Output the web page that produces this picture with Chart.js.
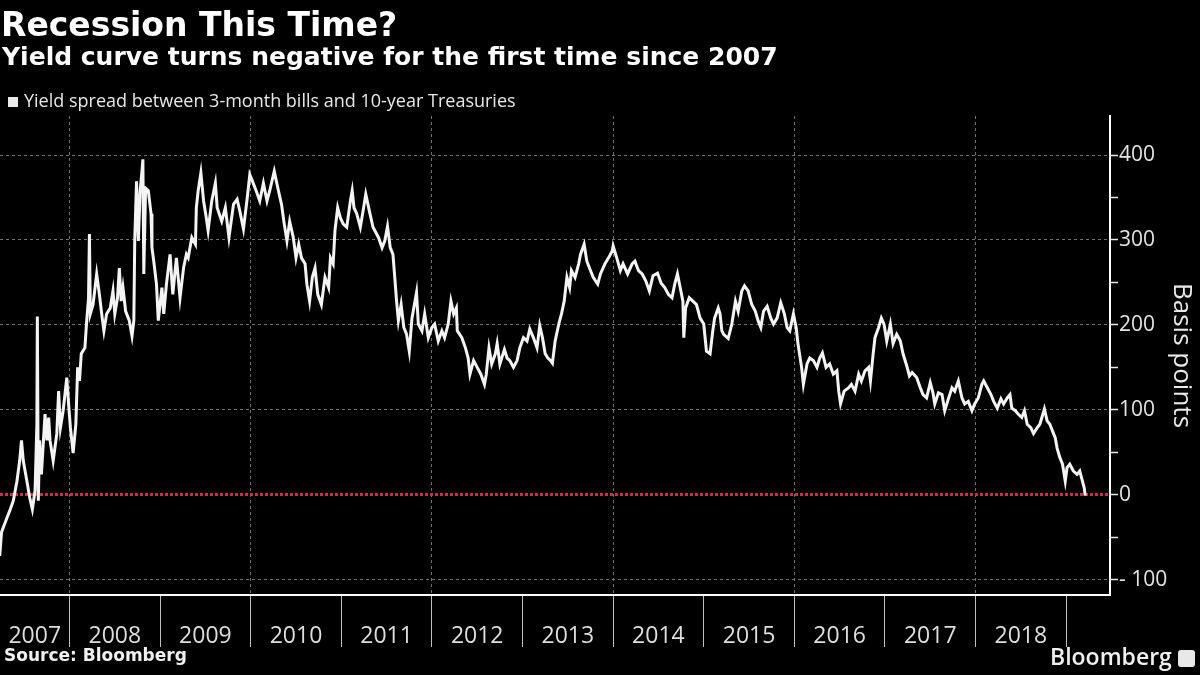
<!DOCTYPE html>
<html lang="en">
<head>
    <meta charset="UTF-8">
    <title>Recession This Time?</title>
    <script src="https://cdn.jsdelivr.net/npm/chart.js"></script>
    <style>
        body {
            margin: 0;
            background: #000;
            width: 1200px;
            height: 675px;
            overflow: hidden;
            position: relative;
            font-family: 'Open Sans', 'Noto Sans', sans-serif;
            color: #fff;
        }
        .wrap {
            position: absolute;
            left: 0; top: 0;
            width: 1200px; height: 675px;
        }
        .titulo {
            position: absolute;
            left: 1px; top: 8px;
            font: bold 33px 'DejaVu Sans', sans-serif;
            line-height: 33px;
            white-space: nowrap;
        }
        .subtitulo {
            position: absolute;
            left: 2px; top: 44px;
            font: bold 25px 'DejaVu Sans', sans-serif;
            line-height: 25px;
            white-space: nowrap;
        }
        .leyenda {
            position: absolute;
            left: 8px; top: 91px;
            font-size: 18px;
            line-height: 18px;
            color: #e8e8e8;
            white-space: nowrap;
        }
        .leyenda span {
            display: inline-block;
            width: 10px; height: 10px;
            background: #e8e8e8;
            margin-right: 6px;
        }
        .fuente {
            position: absolute;
            left: 4px; top: 645px;
            font: bold 17px 'DejaVu Sans', sans-serif;
            line-height: 20px;
            color: #f0f0f0;
        }
        .marca {
            position: absolute;
            left: 1050px; top: 642px;
            font-size: 23px;
            font-weight: 600;
            line-height: 28px;
            color: #f0f0f0;
        }
        .icono {
            position: absolute;
            left: 1178px; top: 650px;
            width: 17px; height: 17px;
            background: #e8e8e8;
            border-radius: 3px;
        }
    </style>
</head>
<body>

    <div class="wrap"><canvas id="grafica"></canvas></div>
    <div class="titulo">Recession This Time?</div>
    <div class="subtitulo">Yield curve turns negative for the first time since 2007</div>
    <div class="leyenda"><span></span>Yield spread between 3-month bills and 10-year Treasuries</div>
    <div class="fuente">Source: Bloomberg</div>
    <div class="marca">Bloomberg</div>
    <div class="icono"></div>

    <script>
        // fechas en años decimales y diferencial en puntos básicos
        const fechas = [
            2007.23, 2007.25, 2007.31, 2007.34, 2007.38, 2007.42, 2007.45, 2007.47, 2007.49, 2007.53,
            2007.56, 2007.59, 2007.62, 2007.64, 2007.645, 2007.656, 2007.67, 2007.69, 2007.73, 2007.75,
            2007.77, 2007.785, 2007.82, 2007.86, 2007.88, 2007.90, 2007.93, 2007.97, 2007.99, 2008.01,
            2008.04, 2008.07, 2008.09, 2008.11, 2008.13, 2008.17, 2008.19, 2008.21, 2008.22, 2008.23,
            2008.26, 2008.30, 2008.33, 2008.36, 2008.38, 2008.41, 2008.45, 2008.48, 2008.50, 2008.53,
            2008.55, 2008.57, 2008.59, 2008.62, 2008.66, 2008.69, 2008.71, 2008.72, 2008.74, 2008.76,
            2008.78, 2008.80, 2008.81, 2008.82, 2008.84, 2008.87, 2008.90, 2008.91, 2008.93, 2008.96,
            2008.98, 2009.02, 2009.04, 2009.07, 2009.11, 2009.14, 2009.18, 2009.22, 2009.26, 2009.29,
            2009.31, 2009.35, 2009.39, 2009.40, 2009.42, 2009.45, 2009.48, 2009.51, 2009.53, 2009.57,
            2009.61, 2009.63, 2009.68, 2009.72, 2009.76, 2009.81, 2009.85, 2009.88, 2009.92, 2009.96,
            2009.99, 2010.02, 2010.06, 2010.10, 2010.14, 2010.18, 2010.21, 2010.26, 2010.30, 2010.34,
            2010.37, 2010.40, 2010.43, 2010.47, 2010.50, 2010.53, 2010.56, 2010.60, 2010.62, 2010.65,
            2010.68, 2010.71, 2010.74, 2010.78, 2010.82, 2010.86, 2010.88, 2010.91, 2010.93, 2010.96,
            2010.99, 2011.02, 2011.06, 2011.10, 2011.12, 2011.14, 2011.17, 2011.21, 2011.24, 2011.27,
            2011.31, 2011.35, 2011.41, 2011.45, 2011.48, 2011.51, 2011.54, 2011.57, 2011.59, 2011.61,
            2011.63, 2011.66, 2011.69, 2011.72, 2011.75, 2011.78, 2011.80, 2011.83, 2011.85, 2011.89,
            2011.92, 2011.96, 2012.00, 2012.03, 2012.07, 2012.11, 2012.14, 2012.18, 2012.21, 2012.24,
            2012.27, 2012.28, 2012.33, 2012.37, 2012.40, 2012.42, 2012.46, 2012.50, 2012.54, 2012.58,
            2012.60, 2012.63, 2012.66, 2012.70, 2012.72, 2012.75, 2012.80, 2012.83, 2012.86, 2012.90,
            2012.94, 2012.97, 2013.01, 2013.05, 2013.08, 2013.12, 2013.16, 2013.19, 2013.22, 2013.25,
            2013.28, 2013.31, 2013.33, 2013.36, 2013.40, 2013.43, 2013.46, 2013.49, 2013.52, 2013.54,
            2013.58, 2013.62, 2013.64, 2013.68, 2013.71, 2013.75, 2013.78, 2013.83, 2013.86, 2013.91,
            2013.95, 2013.99, 2014.00, 2014.04, 2014.08, 2014.11, 2014.16, 2014.21, 2014.24, 2014.28,
            2014.32, 2014.36, 2014.40, 2014.44, 2014.49, 2014.53, 2014.57, 2014.61, 2014.65, 2014.68,
            2014.71, 2014.74, 2014.77, 2014.78, 2014.80, 2014.84, 2014.88, 2014.92, 2014.96, 2015.00,
            2015.03, 2015.07, 2015.10, 2015.12, 2015.16, 2015.18, 2015.20, 2015.22, 2015.27, 2015.31,
            2015.35, 2015.38, 2015.42, 2015.45, 2015.49, 2015.53, 2015.57, 2015.60, 2015.63, 2015.66,
            2015.70, 2015.74, 2015.77, 2015.81, 2015.85, 2015.89, 2015.92, 2015.95, 2015.99, 2016.02,
            2016.04, 2016.08, 2016.10, 2016.14, 2016.17, 2016.21, 2016.25, 2016.28, 2016.31, 2016.35,
            2016.39, 2016.43, 2016.47, 2016.49, 2016.51, 2016.55, 2016.60, 2016.63, 2016.67, 2016.71,
            2016.74, 2016.78, 2016.82, 2016.84, 2016.87, 2016.89, 2016.93, 2016.96, 2016.99, 2017.02,
            2017.06, 2017.09, 2017.13, 2017.17, 2017.20, 2017.24, 2017.27, 2017.30, 2017.35, 2017.39,
            2017.42, 2017.46, 2017.50, 2017.53, 2017.55, 2017.59, 2017.63, 2017.66, 2017.70, 2017.74,
            2017.77, 2017.81, 2017.85, 2017.88, 2017.92, 2017.96, 2017.99, 2018.03, 2018.07, 2018.09,
            2018.13, 2018.17, 2018.20, 2018.24, 2018.28, 2018.31, 2018.35, 2018.38, 2018.40, 2018.44,
            2018.47, 2018.51, 2018.54, 2018.57, 2018.61, 2018.64, 2018.68, 2018.71, 2018.76, 2018.79,
            2018.82, 2018.85, 2018.88, 2018.90, 2018.93, 2018.96, 2018.99, 2019.01, 2019.04, 2019.08,
            2019.12, 2019.15, 2019.18, 2019.20, 2019.21
        ];
        const diferencial = [
            -72, -44, -27, -19, -7, 16, 40, 64, 40, 16,
            -3, -17, 5, 83, 210, -7, 64, 24, 95, 64,
            91, 64, 40, 72, 122, 79, 99, 138, 107, 79,
            49, 83, 150, 134, 166, 173, 205, 232, 307, 213,
            224, 260, 236, 209, 193, 213, 220, 240, 213, 232,
            267, 228, 244, 216, 205, 187, 205, 299, 369, 299,
            358, 381, 395, 260, 361, 358, 331, 291, 275, 248,
            205, 244, 213, 248, 283, 236, 279, 232, 268, 283,
            279, 303, 295, 338, 358, 379, 346, 326, 311, 346,
            367, 338, 322, 338, 303, 342, 348, 334, 313, 348,
            377, 369, 358, 346, 367, 346, 358, 381, 361, 342,
            319, 299, 322, 303, 279, 295, 279, 272, 248, 228,
            256, 267, 236, 224, 256, 244, 279, 272, 311, 338,
            326, 319, 315, 346, 358, 338, 331, 315, 334, 354,
            334, 315, 303, 291, 299, 316, 291, 283, 256, 228,
            205, 224, 197, 189, 169, 208, 220, 238, 201, 193,
            213, 185, 197, 201, 181, 193, 185, 201, 228, 213,
            220, 193, 185, 173, 161, 142, 158, 150, 142, 130,
            142, 173, 154, 166, 178, 154, 171, 161, 158, 150,
            158, 173, 185, 181, 195, 185, 173, 199, 185, 166,
            161, 158, 155, 181, 201, 213, 228, 256, 244, 264,
            256, 272, 283, 295, 275, 264, 256, 248, 260, 272,
            279, 287, 293, 279, 264, 272, 260, 272, 275, 264,
            260, 252, 240, 258, 261, 249, 244, 236, 232, 248,
            260, 244, 228, 185, 220, 232, 228, 224, 208, 201,
            169, 166, 193, 208, 220, 213, 193, 189, 184, 201,
            228, 216, 240, 246, 240, 224, 216, 205, 197, 216,
            222, 208, 201, 208, 226, 213, 197, 193, 213, 197,
            178, 150, 130, 154, 161, 158, 150, 161, 167, 150,
            154, 142, 146, 122, 107, 122, 126, 130, 122, 142,
            134, 146, 150, 134, 166, 185, 197, 208, 201, 181,
            201, 178, 189, 181, 166, 152, 140, 144, 138, 126,
            118, 114, 132, 120, 107, 120, 118, 99, 113, 126,
            122, 134, 114, 107, 110, 99, 107, 114, 130, 134,
            126, 118, 110, 102, 113, 107, 114, 118, 102, 99,
            95, 91, 99, 83, 79, 72, 79, 83, 101, 87,
            83, 75, 67, 55, 44, 36, 16, 32, 36, 28,
            24, 28, 16, 8, -1
        ];

        const limitesAnio = [2008, 2009, 2010, 2011, 2012, 2013, 2014, 2015, 2016, 2017, 2018, 2019];
        const etiquetasAnio = ['2007', '2008', '2009', '2010', '2011', '2012', '2013', '2014', '2015', '2016', '2017', '2018'];
        const marcasY = [-100, -50, 0, 50, 100, 150, 200, 250, 300, 350, 400];

        const xMin = 2007.233;
        const xMax = 2019.484;

        // posicion de cada etiqueta: centro del tramo visible de cada año
        const posEtiqueta = etiquetasAnio.map((e, i) => i === 0 ? (xMin + limitesAnio[0]) / 2 : limitesAnio[i - 1] + 0.5);

        const esLimite = v => limitesAnio.includes(v);

        Chart.defaults.font.family = "'Open Sans', 'Noto Sans', sans-serif";

        const ctx = document.getElementById('grafica').getContext('2d');
        const grafica = new Chart(ctx, {
            type: 'line',
            data: {
                datasets: [{
                    label: 'Yield spread between 3-month bills and 10-year Treasuries',
                    data: fechas.map((f, i) => ({ x: f, y: diferencial[i] })),
                    borderColor: '#f4f4f4',
                    borderWidth: 3,
                    pointRadius: 0,
                    tension: 0,
                    fill: false
                }]
            },
            options: {
                responsive: true,
                maintainAspectRatio: false,
                animation: false,
                layout: { padding: { top: 116, bottom: 20, left: 0, right: 0 } },
                plugins: {
                    legend: { display: false },
                    tooltip: { enabled: false }
                },
                scales: {
                    x: {
                        type: 'linear',
                        min: xMin,
                        max: xMax,
                        afterBuildTicks: s => {
                            s.ticks = limitesAnio.concat(posEtiqueta).sort((a, b) => a - b).map(v => ({ value: v }));
                        },
                        afterFit: s => { s.height = 60; },
                        ticks: {
                            autoSkip: false,
                            maxRotation: 0,
                            color: '#dedede',
                            font: { size: 23 },
                            padding: -24,
                            callback: v => {
                                const k = posEtiqueta.indexOf(v);
                                return k >= 0 ? etiquetasAnio[k] : '';
                            }
                        },
                        grid: {
                            color: c => (c.tick && esLimite(c.tick.value) && c.tick.value % 2 === 0) ? '#707070' : 'transparent',
                            tickColor: c => (c.tick && esLimite(c.tick.value)) ? '#bdbdbd' : 'transparent',
                            tickLength: 52,
                            tickWidth: 1,
                            lineWidth: 1
                        },
                        border: { color: '#ffffff', width: 2, dash: [3, 3] }
                    },
                    y: {
                        position: 'right',
                        min: -118,
                        max: 446,
                        afterBuildTicks: s => { s.ticks = marcasY.map(v => ({ value: v })); },
                        afterFit: s => { s.width = 90; },
                        ticks: {
                            color: '#e4e4e4',
                            font: { size: 21 },
                            padding: 1,
                            callback: v => v % 100 === 0 ? (v < 0 ? '- ' + Math.abs(v) : String(v)) : ''
                        },
                        grid: {
                            color: c => {
                                if (!c.tick) return 'transparent';
                                if (c.tick.value === 0) return '#c8304a';
                                return c.tick.value % 100 === 0 ? '#707070' : 'transparent';
                            },
                            lineWidth: c => (c.tick && c.tick.value === 0) ? 3 : 1,
                            tickColor: '#e8e8e8',
                            tickLength: 8,
                            tickWidth: 1.5
                        },
                        border: {
                            color: '#ffffff',
                            width: 2,
                            dash: c => (c.tick && c.tick.value === 0) ? [3, 2] : [3, 3]
                        },
                        title: {
                            display: true,
                            text: 'Basis points',
                            color: '#e8e8e8',
                            font: { size: 26 },
                            padding: { top: 3, bottom: 0 }
                        }
                    }
                }
            }
        });
    </script>
</body>
</html>
